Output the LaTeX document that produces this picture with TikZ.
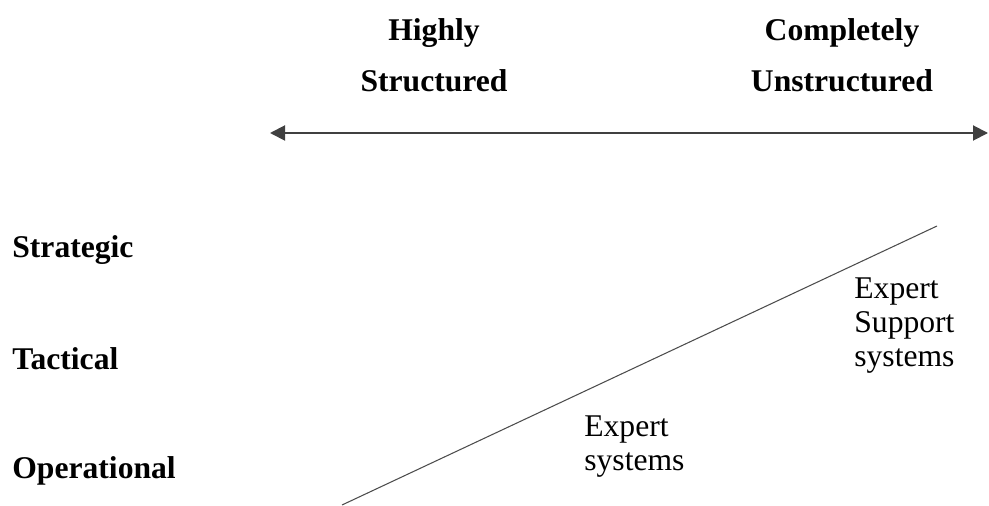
\documentclass[tikz,border=0pt]{standalone}
\usepackage{fontspec}
\setmainfont{Liberation Serif}
\usetikzlibrary{positioning,arrows.meta}

\begin{document}
\begin{tikzpicture}[x=0.02cm,y=-0.02cm,
  head/.style={font=\fontsize{18}{29}\selectfont\bfseries,align=center,inner sep=0pt,anchor=north},
  level/.style={font=\fontsize{18}{22}\selectfont\bfseries,inner sep=0pt,anchor=base west},
  sysname/.style={font=\fontsize{18}{19.4}\selectfont,align=left,inner sep=0pt,anchor=north west},
  axis/.style={{Triangle[length=0.3cm,width=0.3cm]}-{Triangle[length=0.3cm,width=0.3cm]},line width=1.1pt,black!75},
  split/.style={line width=0.6pt,black!70}
]
\useasboundingbox (0,0) rectangle (989,506);
% column headings
\node[head] (hs) at (434,18) {Highly\\Structured};
\node[head] (cu) at (842,18) {Completely\\Unstructured};
% axis
\coordinate (axl) at (270,133);
\coordinate (axr) at (988,133);
\draw[axis] (axl) -- (axr);
% levels
\node[level] (strat) at (12,257) {Strategic};
\node[level] (tact) at (12,369) {Tactical};
\node[level] (oper) at (12,478) {Operational};
% dividing line
\coordinate (dlo) at (342,505);
\coordinate (dhi) at (937,226);
\draw[split] (dlo) -- (dhi);
% systems
\node[sysname] (ess) at (854,277) {Expert\\Support\\systems};
\node[sysname] (es) at (584,415) {Expert\\systems};
\end{tikzpicture}
\end{document}
